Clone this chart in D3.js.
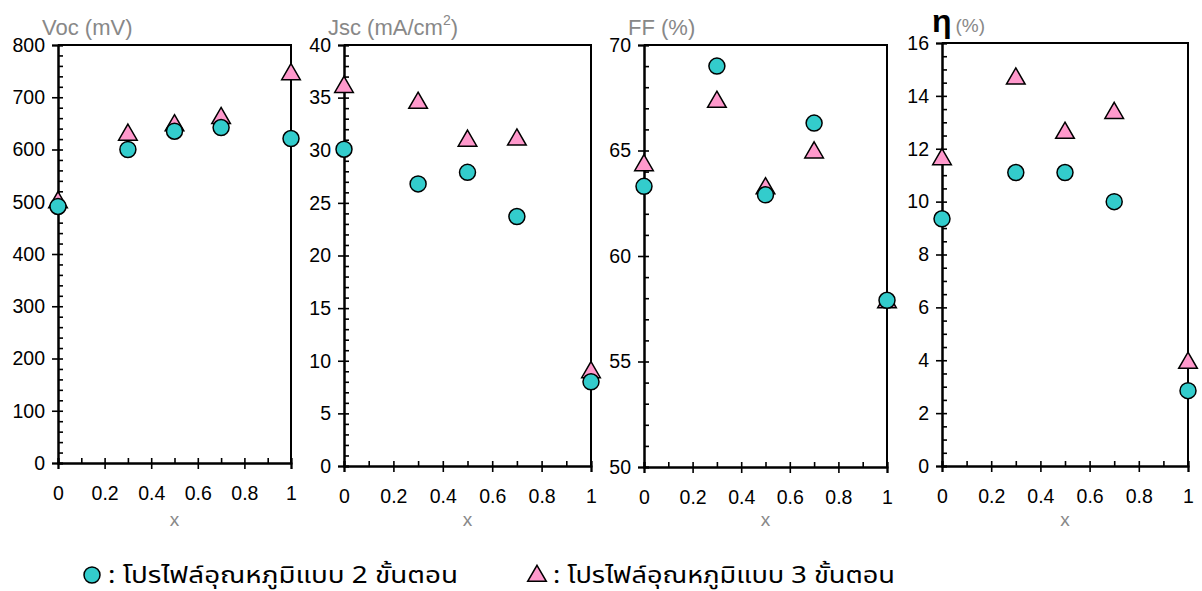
<!DOCTYPE html>
<html>
<head>
<meta charset="utf-8">
<script src="https://cdn.jsdelivr.net/npm/d3@7"></script>
<style>
  body { margin: 0; background: #fff; }
  svg { display: block; font-family: "Liberation Sans", Arial, sans-serif; }
</style>
</head>
<body>
<svg width="1202" height="591"></svg>
<script>
// x composition values (shared by all panels)
const xValues = [0, 0.3, 0.5, 0.7, 1];

// two-step temperature profile (circles)
const vocTwoStep = [491, 600, 635, 642, 621];
const jscTwoStep = [30.1, 26.8, 27.9, 23.7, 8.0];
const ffTwoStep = [63.3, 69.0, 62.9, 66.3, 57.9];
const etaTwoStep = [9.35, 11.1, 11.1, 10.0, 2.85];

// three-step temperature profile (triangles)
const vocThreeStep = [499, 628, 646, 660, 744];
const jscThreeStep = [36.0, 34.5, 30.9, 31.0, 8.9];
const ffThreeStep = [64.3, 67.3, 63.2, 64.9, 57.8];
const etaThreeStep = [11.6, 14.65, 12.6, 13.35, 3.9];

// axis ticks
const xMajorTicks = [0, 0.2, 0.4, 0.6, 0.8, 1];
const xMinorTicks = [0.1, 0.3, 0.5, 0.7, 0.9];
const vocTicks = [0, 100, 200, 300, 400, 500, 600, 700, 800];
const jscTicks = [0, 5, 10, 15, 20, 25, 30, 35, 40];
const ffTicks = [50, 55, 60, 65, 70];
const etaTicks = [0, 2, 4, 6, 8, 10, 12, 14, 16];

const legendLabels = [":  โปรไฟล์อุณหภูมิแบบ 2 ขั้นตอน", ": โปรไฟล์อุณหภูมิแบบ 3 ขั้นตอน"];

const circleFill = "#33cccc";
const triFill = "#ff99cc";

const panels = [
  {left: 58, right: 291, top: 45, bottom: 463, ticks: vocTicks, minorStep: 20,
   two: vocTwoStep, three: vocThreeStep, title: "voc"},
  {left: 344, right: 591, top: 45, bottom: 466, ticks: jscTicks, minorStep: 1,
   two: jscTwoStep, three: jscThreeStep, title: "jsc"},
  {left: 644, right: 887, top: 45, bottom: 467, ticks: ffTicks, minorStep: 1,
   two: ffTwoStep, three: ffThreeStep, title: "ff"},
  {left: 942, right: 1188, top: 43, bottom: 466, ticks: etaTicks, minorStep: 0.5,
   two: etaTwoStep, three: etaThreeStep, title: "eta"}
];

const svg = d3.select("svg");
const triangle = d3.symbol().type(d3.symbolTriangle).size(150);

panels.forEach(p => {
  const x = d3.scaleLinear().domain([0, 1]).range([p.left, p.right]);
  const yMin = p.ticks[0], yMax = p.ticks[p.ticks.length - 1];
  const y = d3.scaleLinear().domain([yMin, yMax]).range([p.bottom, p.top]);
  const yMinor = d3.range(yMin, yMax + 1e-9, p.minorStep);

  const g = svg.append("g");

  // frame (top and right)
  g.append("path")
    .attr("d", `M${p.left},${p.top}H${p.right}V${p.bottom}`)
    .attr("fill", "none").attr("stroke", "#000").attr("stroke-width", 2);

  // y axis: major ticks outward with labels, all ticks inward
  const yAx = g.append("g")
    .attr("transform", `translate(${p.left},0)`)
    .call(d3.axisLeft(y).tickValues(p.ticks).tickSize(6).tickPadding(7).tickFormat(d3.format("")));
  g.append("g")
    .attr("transform", `translate(${p.left},0)`)
    .call(d3.axisRight(y).tickValues(yMinor).tickSize(5).tickFormat(""));

  // x axis
  const xAx = g.append("g")
    .attr("transform", `translate(0,${p.bottom})`)
    .call(d3.axisBottom(x).tickValues(xMajorTicks).tickSize(6).tickFormat(d3.format("")));
  g.append("g")
    .attr("transform", `translate(0,${p.bottom})`)
    .call(d3.axisTop(x).tickValues(xMajorTicks.concat(xMinorTicks)).tickSize(5).tickFormat(""));

  g.selectAll(".domain").attr("stroke-width", 2).attr("stroke", "#000");
  g.selectAll(".tick line").attr("stroke-width", 1.6).attr("stroke", "#000");
  [yAx, xAx].forEach(a => a.selectAll("text")
    .attr("font-size", 19.5).attr("fill", "#000")
    .attr("font-family", "'Liberation Sans', Arial, sans-serif"));
  xAx.selectAll("text").attr("y", 30).attr("dy", "0.35em");

  // x title
  g.append("text")
    .attr("x", (p.left + p.right) / 2).attr("y", 526)
    .attr("text-anchor", "middle")
    .attr("font-size", 19).attr("fill", "#888")
    .text("x");

  // y title
  const t = g.append("text")
    .attr("x", p.left - 16).attr("y", 35)
    .attr("font-size", 22).attr("fill", "#888");
  if (p.title === "voc") {
    t.text("Voc (mV)");
  } else if (p.title === "jsc") {
    t.append("tspan").text("Jsc (mA/cm");
    t.append("tspan").attr("font-size", 14).attr("dy", -10).text("2");
    t.append("tspan").attr("dy", 10).text(")");
  } else if (p.title === "ff") {
    t.text("FF (%)");
  } else {
    t.attr("x", p.left - 10).attr("y", 32);
    t.append("tspan").attr("font-size", 32).attr("font-weight", "bold")
      .attr("fill", "#000").text("η");
    t.append("tspan").attr("font-size", 19).attr("dx", 4).text("(%)");
  }

  // triangles
  g.selectAll(".tri").data(xValues.map((v, i) => [v, p.three[i]]))
    .join("path")
    .attr("transform", d => `translate(${x(d[0])},${y(d[1])})`)
    .attr("d", triangle)
    .attr("fill", triFill).attr("stroke", "#000").attr("stroke-width", 1.5);

  // circles
  g.selectAll(".dot").data(xValues.map((v, i) => [v, p.two[i]]))
    .join("circle")
    .attr("cx", d => x(d[0])).attr("cy", d => y(d[1]))
    .attr("r", 8)
    .attr("fill", circleFill).attr("stroke", "#000").attr("stroke-width", 1.5);
});

// legend
const legend = svg.append("g")
  .attr("font-family", "'Noto Sans Thai', 'Noto Sans', 'DejaVu Sans', sans-serif");
legend.append("circle")
  .attr("cx", 92).attr("cy", 575).attr("r", 8)
  .attr("fill", circleFill).attr("stroke", "#000").attr("stroke-width", 1.5);
legend.append("text")
  .attr("x", 108).attr("y", 583)
  .attr("font-size", 23).attr("fill", "#000")
  .attr("textLength", 350).attr("lengthAdjust", "spacingAndGlyphs")
  .text(legendLabels[0]);
legend.append("path")
  .attr("transform", "translate(537,576)")
  .attr("d", triangle)
  .attr("fill", triFill).attr("stroke", "#000").attr("stroke-width", 1.5);
legend.append("text")
  .attr("x", 553).attr("y", 583)
  .attr("font-size", 23).attr("fill", "#000")
  .attr("textLength", 342).attr("lengthAdjust", "spacingAndGlyphs")
  .text(legendLabels[1]);
</script>
</body>
</html>
